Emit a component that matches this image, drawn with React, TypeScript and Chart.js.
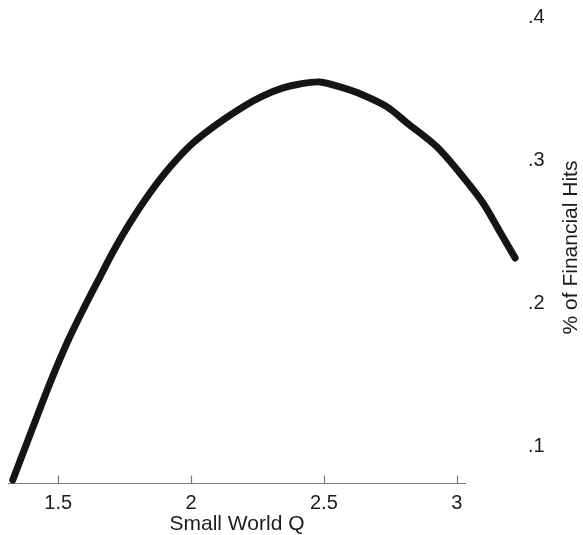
import React, { useEffect, useRef } from "react";
import { Chart, registerables } from "chart.js";

Chart.register(...registerables);

// Fitted share of financial hits across small-world quotient values
const qValues = [
  1.329, 1.405, 1.469, 1.533, 1.593, 1.657, 1.706, 1.77, 1.845, 1.921, 2.007, 2.098, 2.195,
  2.271, 2.346, 2.41, 2.485, 2.561, 2.647, 2.738, 2.813, 2.926, 3.024, 3.099, 3.163, 3.22,
];
const hitShares = [
  0.0762, 0.1133, 0.1441, 0.1722, 0.1953, 0.2184, 0.2359, 0.2563, 0.2773, 0.2955, 0.3123, 0.3256,
  0.3376, 0.3453, 0.3509, 0.3537, 0.3551, 0.3516, 0.346, 0.3376, 0.3264, 0.3095, 0.2885, 0.2703,
  0.25, 0.2317,
];

const xTickValues = [1.5, 2, 2.5, 3];
const xTickLabels = ["1.5", "2", "2.5", "3"];
const yTickValues = [0.1, 0.2, 0.3, 0.4];
const yTickLabels = [".1", ".2", ".3", ".4"];

const xTitle = "Small World Q";
const yTitle = "% of Financial Hits";

const X_MIN = 1.311;
const X_MAX = 3.035;
const Y_MIN = 0.0741;
const Y_MAX = 0.4041;

const FONT_FAMILY = "'Liberation Sans', Arial, Helvetica, sans-serif";
const TEXT_COLOR = "#1c1c1c";

// Baseline with inward tick marks along the x axis
const axisLinePlugin = {
  id: "axisLine",
  beforeDatasetsDraw(chart: any) {
    const { ctx, chartArea, scales } = chart;
    const xs = scales.x;
    const yb = Math.round(chartArea.bottom) + 0.5;
    ctx.save();
    ctx.strokeStyle = "#7c7c7c";
    ctx.lineWidth = 1.2;
    ctx.beginPath();
    ctx.moveTo(chartArea.left, yb);
    ctx.lineTo(chartArea.right, yb);
    xTickValues.forEach((v) => {
      const px = Math.round(xs.getPixelForValue(v)) + 0.5;
      ctx.moveTo(px, yb);
      ctx.lineTo(px, yb - 8);
    });
    ctx.stroke();
    ctx.restore();
  },
};

// Right-hand axis title, reading bottom to top
const rightTitlePlugin = {
  id: "rightTitle",
  afterDraw(chart: any) {
    const { ctx, chartArea } = chart;
    ctx.save();
    ctx.fillStyle = TEXT_COLOR;
    ctx.font = `21px ${FONT_FAMILY}`;
    ctx.translate(chartArea.right + 105, (chartArea.top + chartArea.bottom) / 2);
    ctx.rotate(-Math.PI / 2);
    ctx.textAlign = "center";
    ctx.textBaseline = "middle";
    ctx.fillText(yTitle, 0, 0);
    ctx.restore();
  },
};

export default function App() {
  const canvasRef = useRef<HTMLCanvasElement | null>(null);

  useEffect(() => {
    document.body.style.margin = "0";
    const canvas = canvasRef.current;
    if (!canvas) return;

    const chart = new Chart(canvas, {
      type: "line",
      data: {
        datasets: [
          {
            data: qValues.map((q, i) => ({ x: q, y: hitShares[i] })),
            borderColor: "#151515",
            borderWidth: 7,
            borderCapStyle: "round",
            borderJoinStyle: "round",
            pointRadius: 0,
            tension: 0.3,
            fill: false,
            clip: false as any,
          },
        ],
      },
      options: {
        animation: false,
        responsive: false,
        devicePixelRatio: 1,
        layout: { autoPadding: false, padding: { left: 8, top: 12, right: 0, bottom: 0 } },
        plugins: {
          legend: { display: false },
          tooltip: { enabled: false },
        },
        scales: {
          x: {
            type: "linear",
            position: "bottom",
            bounds: "data",
            afterDataLimits: (s: any) => {
              s.min = X_MIN;
              s.max = X_MAX;
            },
            afterBuildTicks: (s: any) => {
              s.ticks = xTickValues.map((v) => ({ value: v }));
            },
            afterFit: (s: any) => {
              s.height = 52;
              s.paddingLeft = 0;
              s.paddingRight = 0;
              s.paddingTop = 0;
              s.paddingBottom = 0;
            },
            grid: { display: false, drawTicks: false },
            border: { display: false },
            ticks: {
              padding: 8,
              maxRotation: 0,
              autoSkip: false,
              color: TEXT_COLOR,
              font: { family: FONT_FAMILY, size: 20 },
              callback: (v: any) => {
                const i = xTickValues.indexOf(Number(v));
                return i >= 0 ? xTickLabels[i] : "";
              },
            },
            title: {
              display: true,
              text: xTitle,
              color: TEXT_COLOR,
              padding: 0,
              font: { family: FONT_FAMILY, size: 21, lineHeight: 1 },
            },
          },
          y: {
            type: "linear",
            position: "right",
            min: Y_MIN,
            max: Y_MAX,
            afterBuildTicks: (s: any) => {
              s.ticks = yTickValues.map((v) => ({ value: v }));
            },
            afterFit: (s: any) => {
              s.width = 117;
              s.paddingLeft = 0;
              s.paddingRight = 0;
              s.paddingTop = 0;
              s.paddingBottom = 0;
            },
            grid: { display: false, drawTicks: false },
            border: { display: false },
            ticks: {
              padding: 62,
              color: TEXT_COLOR,
              font: { family: FONT_FAMILY, size: 20 },
              callback: (v: any) => {
                const i = yTickValues.findIndex((t) => Math.abs(t - Number(v)) < 1e-9);
                return i >= 0 ? yTickLabels[i] : "";
              },
            },
          },
        },
      },
      plugins: [axisLinePlugin, rightTitlePlugin],
    });

    return () => chart.destroy();
  }, []);

  return (
    <div style={{ width: 583, height: 535 }}>
      <canvas ref={canvasRef} width={583} height={535} style={{ display: "block" }} />
    </div>
  );
}
